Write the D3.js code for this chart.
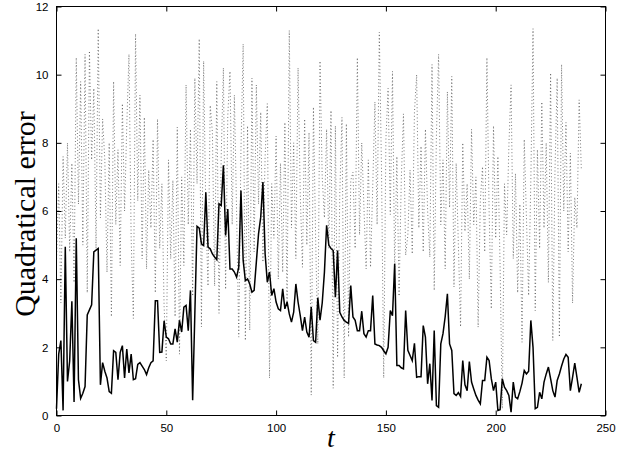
<!DOCTYPE html>
<html>
<head>
<meta charset="utf-8">
<script src="https://cdn.jsdelivr.net/npm/d3@7.9.0/dist/d3.min.js"></script>
<style>
  body { margin: 0; background: #fff; }
  svg { display: block; }
  .tick text { font-family: "Liberation Sans", Arial, sans-serif; font-size: 11.5px; }
</style>
</head>
<body>
<svg id="chart" width="631" height="455"></svg>
<script>
// solid line: error per step t = 0..239
const solid = [
  0.2, 1.8, 2.2, 0.15, 4.95, 1.0, 1.6, 3.35, 0.4, 5.2,
  1.05, 0.5, 0.65, 0.85, 2.95, 3.1, 3.25, 4.8, 4.85, 4.9,
  0.9, 1.55, 1.3, 1.1, 0.7, 0.65, 1.9, 1.85, 1.05, 1.85,
  2.05, 1.1, 1.95, 1.25, 1.8, 1.05, 1.08, 1.5, 1.55, 1.45,
  1.35, 1.2, 1.4, 1.55, 1.6, 3.37, 3.37, 1.85, 1.86, 2.78,
  2.3, 2.25, 2.1, 2.1, 2.54, 2.15, 2.79, 2.45, 3.18, 3.23,
  2.49, 3.67, 0.45, 3.0, 5.55, 5.5, 5.04, 4.99, 6.55, 4.94,
  4.89, 4.74, 4.65, 4.57, 6.21, 6.16, 7.34, 5.28, 6.06, 4.3,
  4.3, 4.21, 4.06, 4.35, 6.6, 4.55, 3.96, 4.01, 3.86, 3.62,
  3.67, 4.5, 5.33, 5.82, 6.85, 4.74, 3.91, 4.21, 3.52, 3.72,
  3.33, 3.13, 3.08, 3.72, 3.13, 3.33, 2.98, 2.74, 3.03, 3.86,
  3.33, 2.93, 2.49, 2.89, 2.45, 2.3, 3.18, 2.2, 2.15, 3.45,
  2.8, 3.3, 4.2, 5.58, 5.0, 4.9, 4.84, 3.47, 4.84, 3.03,
  2.89, 2.79, 2.74, 2.7, 3.81, 2.89, 2.79, 2.49, 2.49, 3.06,
  2.4, 2.3, 2.49, 2.49, 3.52, 2.1, 2.07, 2.05, 2.0, 1.9,
  1.81, 2.0, 3.08, 2.93, 4.45, 1.47, 1.47, 1.4, 1.37, 3.08,
  1.91, 1.76, 1.61, 2.12, 1.12, 1.14, 1.14, 2.64, 2.3, 0.93,
  1.52, 0.44, 2.49, 0.29, 0.24, 2.1, 2.4, 2.9, 3.57, 2.1,
  1.91, 0.64, 0.59, 0.67, 0.56, 1.61, 0.9, 0.73, 1.58, 0.98,
  0.78, 0.59, 0.45, 0.34, 1.03, 1.03, 1.71, 1.61, 1.08, 0.73,
  0.98, 0.15, 0.17, 1.08, 0.83, 0.73, 0.59, 0.1, 0.98, 0.54,
  0.49, 0.7, 0.95, 1.32, 1.22, 1.3, 2.79, 2.0, 0.2, 0.24,
  0.68, 0.49, 0.98, 1.22, 1.42, 1.08, 0.73, 0.54, 1.03, 1.22,
  1.45, 1.66, 1.79, 1.71, 0.73, 1.12, 1.54, 1.12, 0.68, 0.93
];

// dotted line: error per step t = 0..239
const dotted = [
  4.5, 6.8, 3.3, 7.6, 5.2, 8.0, 4.8, 7.4, 3.9, 10.5,
  6.2, 9.8, 5.0, 10.6, 3.6, 10.7, 7.5, 9.6, 4.9, 11.35,
  5.8, 8.7, 7.5, 4.2, 8.0, 2.9, 9.8, 5.6, 7.8, 4.4,
  9.15, 6.0, 8.5, 10.6, 5.2, 2.85, 11.2, 6.3, 9.4, 4.6,
  8.75, 4.3, 7.2, 5.5, 8.1, 3.6, 8.7, 4.9, 6.8, 3.2,
  1.6, 7.5, 4.6, 6.9, 2.9, 8.46, 1.8, 7.0, 4.4, 9.7,
  5.6, 8.4, 3.5, 9.9, 6.8, 11.05, 2.6, 10.4, 5.9, 3.8,
  9.1, 8.3, 3.8, 9.8, 3.0, 7.6, 10.2, 3.7, 8.8, 10.1,
  5.6, 9.4, 6.0, 2.3, 7.8, 10.9, 2.2, 8.5, 2.5, 9.9,
  4.8, 9.7, 6.2, 8.9, 4.5, 7.6, 9.15, 1.1, 6.8, 5.2,
  8.2, 4.0, 7.4, 4.2, 8.6, 3.2, 11.3, 5.5, 8.0, 4.6,
  10.2, 6.5, 4.35, 8.7, 5.0, 8.3, 0.6, 9.05, 5.2, 2.1,
  10.4, 7.0, 5.8, 8.4, 4.9, 8.95, 0.8, 8.5, 1.7, 6.5,
  8.75, 1.1, 8.56, 2.3, 6.9, 7.14, 4.9, 10.5, 5.3, 8.0,
  6.1, 4.3, 7.5, 4.35, 6.7, 9.2, 5.6, 11.25, 7.2, 1.1,
  8.1, 9.6, 5.9, 10.1, 4.2, 7.6, 3.5, 6.9, 8.85, 4.7,
  5.3, 7.2, 4.74, 8.9, 10.0, 5.5, 7.9, 4.8, 8.4, 6.0,
  4.65, 10.3, 3.67, 8.2, 10.6, 5.6, 7.5, 4.3, 9.5, 6.1,
  9.95, 3.77, 7.4, 5.0, 2.6, 8.0, 5.4, 6.8, 4.0, 8.4,
  5.6, 7.0, 2.59, 6.3, 7.3, 4.8, 10.5, 6.0, 3.13, 8.5,
  5.2, 7.6, 4.4, 0.2, 6.8, 5.3, 7.9, 9.7, 4.6, 7.1,
  3.6, 6.2, 2.15, 8.1, 5.8, 3.52, 6.9, 11.35, 3.08, 7.8,
  4.9, 9.2, 5.5, 8.0, 3.9, 10.05, 2.2, 7.2, 9.9, 2.3,
  10.3, 6.0, 8.6, 4.8, 7.7, 3.3, 6.4, 5.5, 9.26, 7.2
];

const xTicks = [0, 50, 100, 150, 200, 250];
const yTicks = [0, 2, 4, 6, 8, 10, 12];

const svg = d3.select('#chart');
const mLeft = 56.5, mRight = 605.5, mTop = 6.5, mBottom = 415.5;

const x = d3.scaleLinear().domain([0, 250]).range([mLeft, mRight]);
const y = d3.scaleLinear().domain([0, 12]).range([mBottom, mTop]);

// dotted series first, solid on top
const line = d3.line()
  .x((d, i) => x(i))
  .y(d => y(d));

svg.append('path')
  .datum(dotted)
  .attr('d', line)
  .attr('fill', 'none')
  .attr('stroke', '#555')
  .attr('stroke-width', 0.8)
  .attr('stroke-dasharray', '1,2.4');

svg.append('path')
  .datum(solid)
  .attr('d', line)
  .attr('fill', 'none')
  .attr('stroke', '#000')
  .attr('stroke-width', 1.5)
  .attr('stroke-linejoin', 'miter');

// axes, ticks pointing inwards
const tickLen = 5;
svg.append('g')
  .attr('transform', `translate(0,${mBottom})`)
  .call(d3.axisBottom(x).tickValues(xTicks).tickSizeInner(-tickLen).tickSizeOuter(0).tickPadding(8))
  .call(g => g.select('.domain').remove());

svg.append('g')
  .attr('transform', `translate(${mLeft},0)`)
  .call(d3.axisLeft(y).tickValues(yTicks).tickSizeInner(-tickLen).tickSizeOuter(0).tickPadding(8))
  .call(g => g.select('.domain').remove());

svg.append('g')
  .attr('transform', `translate(0,${mTop})`)
  .call(d3.axisTop(x).tickValues(xTicks).tickSizeInner(-tickLen).tickSizeOuter(0).tickFormat(''))
  .call(g => g.select('.domain').remove());

svg.append('g')
  .attr('transform', `translate(${mRight},0)`)
  .call(d3.axisRight(y).tickValues(yTicks).tickSizeInner(-tickLen).tickSizeOuter(0).tickFormat(''))
  .call(g => g.select('.domain').remove());

svg.selectAll('.tick line').attr('stroke', '#000');
svg.selectAll('.tick text').attr('fill', '#000');

svg.append('rect')
  .attr('x', mLeft).attr('y', mTop)
  .attr('width', mRight - mLeft).attr('height', mBottom - mTop)
  .attr('fill', 'none')
  .attr('stroke', '#000')
  .attr('stroke-width', 1);

// labels
svg.append('text')
  .attr('transform', `translate(35,${(mTop + mBottom) / 2 + 3}) rotate(-90)`)
  .attr('text-anchor', 'middle')
  .attr('font-family', '"Liberation Serif", "Times New Roman", serif')
  .attr('font-size', 30)
  .text('Quadratical error');

svg.append('text')
  .attr('x', (mLeft + mRight) / 2)
  .attr('y', 447)
  .attr('text-anchor', 'middle')
  .attr('font-family', '"Liberation Serif", "Times New Roman", serif')
  .attr('font-style', 'italic')
  .attr('font-size', 28)
  .text('t');
</script>
</body>
</html>
